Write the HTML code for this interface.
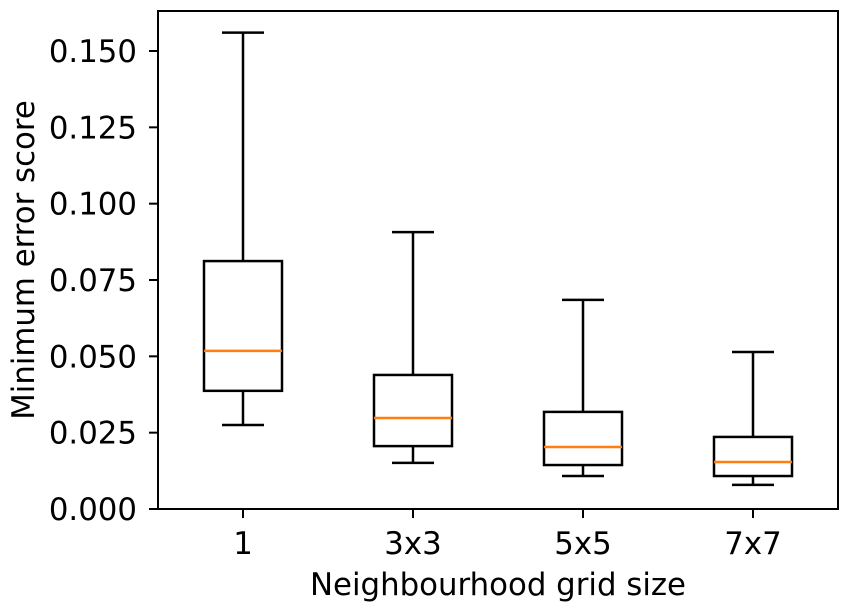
<!DOCTYPE html>
<html><head><meta charset="utf-8"><style>
body{margin:0;background:#fff;}
svg{display:block;font-family:"DejaVu Sans","Liberation Sans",sans-serif;}
</style></head><body>
<svg id="chart" width="852" height="611"></svg>
<script>
const categories=["1","3x3","5x5","7x7"];
const whiskerLow=[0.0275,0.0151,0.0108,0.0079];
const q1=[0.0387,0.0206,0.0144,0.0108];
const medians=[0.0518,0.0298,0.0203,0.0154];
const q3=[0.0812,0.0439,0.0318,0.0236];
const whiskerHigh=[0.156,0.0907,0.0685,0.0514];
const yTicks=[0,0.025,0.05,0.075,0.1,0.125,0.15];
const yTickLabels=["0.000","0.025","0.050","0.075","0.100","0.125","0.150"];

const L=158,R=838,T=11,B=509;
const NS="http://www.w3.org/2000/svg";
const svg=document.getElementById('chart');
const y=v=>B-v*(B-51)/0.15;
const x=i=>L+(i+0.5)*(R-L)/categories.length;
function mk(tag,attrs,parent){const e=document.createElementNS(NS,tag);for(const k in attrs)e.setAttribute(k,attrs[k]);(parent||svg).appendChild(e);return e;}
const boxW=78,capW=42,FS=30.8;
categories.forEach((c,i)=>{
  const g=mk('g',{});
  
  
  const cx=x(i);
  mk('line',{x1:cx,x2:cx,y1:y(whiskerLow[i]),y2:y(q1[i]),stroke:'#000','stroke-width':2.5},g);
  mk('line',{x1:cx,x2:cx,y1:y(q3[i]),y2:y(whiskerHigh[i]),stroke:'#000','stroke-width':2.5},g);
  mk('line',{x1:cx-capW/2,x2:cx+capW/2,y1:y(whiskerLow[i]),y2:y(whiskerLow[i]),stroke:'#000','stroke-width':2.5},g);
  mk('line',{x1:cx-capW/2,x2:cx+capW/2,y1:y(whiskerHigh[i]),y2:y(whiskerHigh[i]),stroke:'#000','stroke-width':2.5},g);
  mk('rect',{x:cx-boxW/2,y:y(q3[i]),width:boxW,height:y(q1[i])-y(q3[i]),fill:'none',stroke:'#000','stroke-width':2.5},g);
  mk('line',{x1:cx-boxW/2,x2:cx+boxW/2,y1:y(medians[i]),y2:y(medians[i]),stroke:'#ff7f0e','stroke-width':2.5},g);
  const t=mk('text',{x:cx,y:554,'text-anchor':'middle','font-size':FS});
  t.textContent=c;
  
  
  mk('line',{x1:cx,x2:cx,y1:B,y2:B+9,stroke:'#000','stroke-width':2});
});
yTicks.forEach((v,i)=>{
  mk('line',{x1:L-9,x2:L,y1:y(v),y2:y(v),stroke:'#000','stroke-width':2});
  const t=mk('text',{x:L-21,y:y(v)+11,'text-anchor':'end','font-size':FS});
  t.textContent=yTickLabels[i];
  
  
});
const frame=mk('rect',{x:L,y:T,width:R-L,height:B-T,fill:'none',stroke:'#000','stroke-width':2});


const xt=mk('text',{x:(L+R)/2,y:595,'text-anchor':'middle','font-size':FS});
xt.textContent='Neighbourhood grid size';


const yt=mk('text',{x:0,y:0,'text-anchor':'middle','font-size':FS,transform:`translate(34,${(T+B)/2}) rotate(-90)`});
yt.textContent='Minimum error score';


</script>
</body></html>
